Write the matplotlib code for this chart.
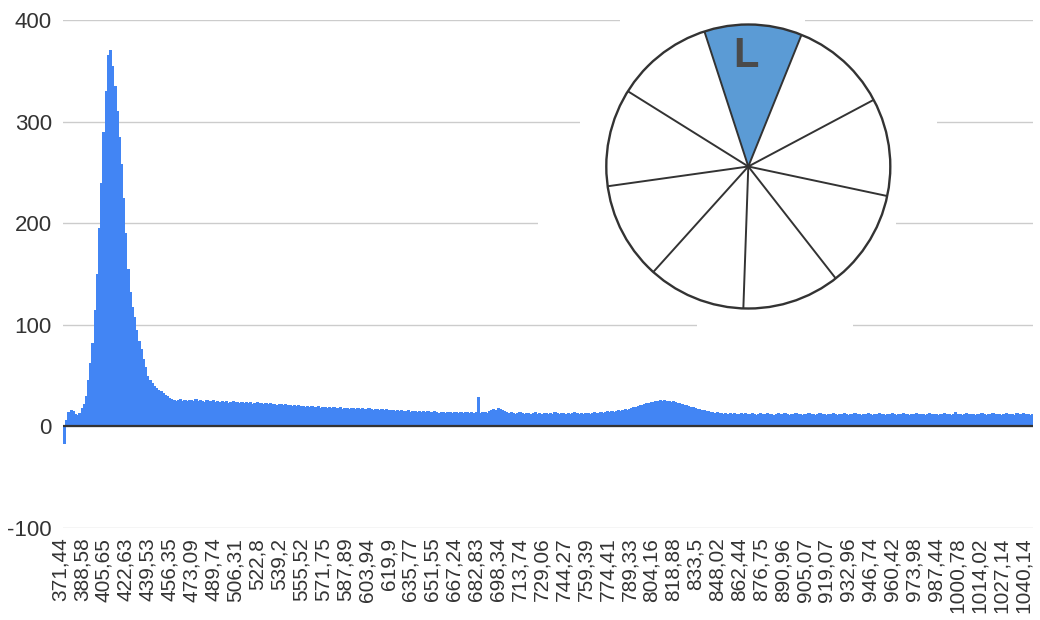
import numpy as np
import matplotlib
matplotlib.use("Agg")
import matplotlib.pyplot as plt
from matplotlib.patches import Circle, Wedge, Polygon
from matplotlib.transforms import ScaledTranslation

plt.rcParams['font.family'] = ['Liberation Sans', 'DejaVu Sans']

# Wavelength labels (nm), one every LABEL_STEP channels
wavelength_labels = [
    "371,44", "388,58", "405,65", "422,63", "439,53", "456,35", "473,09", "489,74",
    "506,31", "522,8", "539,2", "555,52", "571,75", "587,89", "603,94", "619,9",
    "635,77", "651,55", "667,24", "682,83", "698,34", "713,74", "729,06", "744,27",
    "759,39", "774,41", "789,33", "804,16", "818,88", "833,5", "848,02", "862,44",
    "876,75", "890,96", "905,07", "919,07", "932,96", "946,74", "960,42", "973,98",
    "987,44", "1000,78", "1014,02", "1027,14", "1040,14",
]
LABEL_STEP = 10

# Intensity per spectrometer channel
intensity = [
    -16, 6, 14, 16, 15, 12, 11, 13, 18, 22,
    30, 46, 62, 82, 115, 150, 195, 240, 290, 330,
    366, 370, 355, 335, 310, 285, 258, 225, 190, 155,
    132, 118, 108, 95, 84, 76, 66, 58, 50, 46,
    43, 40, 38, 36, 35, 33, 31, 30, 28, 27,
    26, 25, 26, 27, 25, 26, 25, 26, 26, 25,
    27, 25, 26, 25, 24, 26, 25, 25, 26, 24,
    25, 24, 25, 24, 25, 23, 24, 25, 24, 24,
    23, 24, 23, 24, 23, 24, 22, 23, 24, 23,
    23, 22, 23, 22, 23, 22, 22, 21, 22, 22,
    21, 22, 21, 21, 20, 21, 20, 21, 20, 20,
    19, 20, 19, 20, 19, 19, 20, 18, 19, 19,
    18, 19, 18, 19, 18, 18, 19, 17, 18, 18,
    17, 18, 18, 17, 18, 17, 18, 17, 17, 18,
    17, 16, 17, 17, 16, 17, 16, 17, 16, 16,
    16, 15, 16, 15, 16, 15, 15, 16, 14, 15,
    15, 14, 15, 14, 15, 14, 15, 14, 14, 15,
    14, 13, 14, 14, 13, 14, 14, 13, 14, 14,
    13, 14, 13, 14, 14, 13, 14, 13, 14, 29,
    13, 14, 14, 13, 15, 16, 17, 16, 18, 17,
    16, 15, 14, 13, 14, 13, 12, 13, 14, 13,
    12, 13, 13, 12, 13, 14, 12, 13, 12, 13,
    13, 12, 13, 12, 14, 13, 12, 13, 13, 12,
    13, 12, 13, 14, 13, 12, 13, 12, 13, 13,
    12, 13, 14, 13, 13, 14, 13, 14, 15, 14,
    15, 14, 15, 16, 15, 16, 17, 16, 17, 18,
    19, 19, 20, 21, 21, 22, 23, 23, 24, 24,
    25, 25, 26, 25, 26, 25, 25, 24, 25, 24,
    23, 23, 22, 21, 21, 20, 19, 19, 18, 17,
    17, 16, 16, 15, 15, 14, 14, 13, 14, 13,
    13, 12, 13, 12, 13, 12, 13, 12, 12, 13,
    12, 13, 12, 12, 13, 12, 11, 12, 13, 12,
    12, 13, 12, 12, 11, 12, 13, 12, 12, 13,
    12, 11, 12, 12, 13, 12, 12, 11, 12, 12,
    13, 12, 12, 11, 12, 13, 12, 12, 11, 12,
    12, 13, 12, 11, 12, 12, 13, 12, 11, 12,
    12, 13, 12, 12, 11, 12, 12, 13, 12, 11,
    12, 12, 13, 12, 12, 11, 12, 12, 13, 12,
    11, 12, 12, 13, 12, 12, 11, 12, 12, 13,
    12, 12, 12, 11, 12, 13, 12, 12, 12, 11,
    12, 12, 13, 12, 12, 11, 12, 14, 12, 12,
    11, 12, 13, 12, 12, 12, 11, 12, 12, 13,
    12, 11, 12, 12, 13, 12, 12, 12, 11, 12,
    13, 12, 12, 12, 11, 13, 12, 12, 13, 12,
    12, 11, 12,
]

y_ticks = [-100, 0, 100, 200, 300, 400]

W, H = 1040, 620
fig = plt.figure(figsize=(W / 100, H / 100), dpi=100)
fig.patch.set_facecolor("white")

# main plot area, given in pixel edges
left, right, top, bottom = 63, 1033, 20, 528
ax = fig.add_axes([left / W, 1 - bottom / H, (right - left) / W, (bottom - top) / H])

x = np.arange(len(intensity))
ax.bar(x, intensity, width=1.0, color="#4285f4", edgecolor="#4285f4",
       linewidth=0.6, antialiased=False, zorder=2)
ax.axhline(0, color="#333333", lw=1.6, zorder=3)

ax.set_xlim(-0.5, len(intensity) - 0.5)
ax.set_ylim(-100, 400)
ax.set_yticks(y_ticks)
ax.set_yticklabels([str(v) for v in y_ticks], fontsize=16, color="#333333")
ax.grid(axis="y", color="#cccccc", lw=1, zorder=0)
ax.set_axisbelow(True)

tick_pos = np.arange(len(wavelength_labels)) * LABEL_STEP
ax.set_xticks(tick_pos)
ax.set_xticklabels(wavelength_labels, rotation=90, fontsize=15, color="#333333",
                   ha="center", va="top")
ax.tick_params(axis="both", length=0)
ax.tick_params(axis="y", pad=8)
ax.tick_params(axis="x", pad=7)
shift = ScaledTranslation(-4 / 100, 0, fig.dpi_scale_trans)
for lbl in ax.get_xticklabels():
    lbl.set_transform(lbl.get_transform() + shift)
for s in ax.spines.values():
    s.set_visible(False)

# overlay in pixel coordinates for the wheel picture
ov = fig.add_axes([0, 0, 1, 1])
ov.set_xlim(0, W)
ov.set_ylim(H, 0)
ov.axis("off")
ov.patch.set_alpha(0)

backdrop = Polygon([(620, 10), (805, 10), (805, 25), (937, 115), (937, 130),
                    (896, 215), (896, 230), (853, 318), (853, 332), (697, 332),
                    (697, 318), (538, 230), (538, 215), (580, 130), (580, 115),
                    (620, 25)], closed=True, facecolor="white", edgecolor="none",
                   zorder=1)
ov.add_patch(backdrop)

cx, cy, r = 748.3, 166.5, 142
ov.add_patch(Circle((cx, cy), r, facecolor="white", edgecolor="none", zorder=2))
# y axis points down here, so on-screen angle a is data angle -a
ov.add_patch(Wedge((cx, cy), r, -108, -68, facecolor="#5b9bd5",
                   edgecolor="none", zorder=3))
for k in range(9):
    a = np.deg2rad(28 + 40 * k)
    ov.plot([cx, cx + r * np.cos(a)], [cy, cy - r * np.sin(a)],
            color="#333333", lw=1.4, zorder=4, solid_capstyle="butt")
ov.add_patch(Circle((cx, cy), r, facecolor="none", edgecolor="#333333",
                    lw=1.7, zorder=5))
ov.text(746, 56, "L", fontsize=30, fontweight="bold", color="#4a4a4a",
        ha="center", va="center", zorder=6)

fig.savefig("out.png", dpi=100, facecolor="white")
